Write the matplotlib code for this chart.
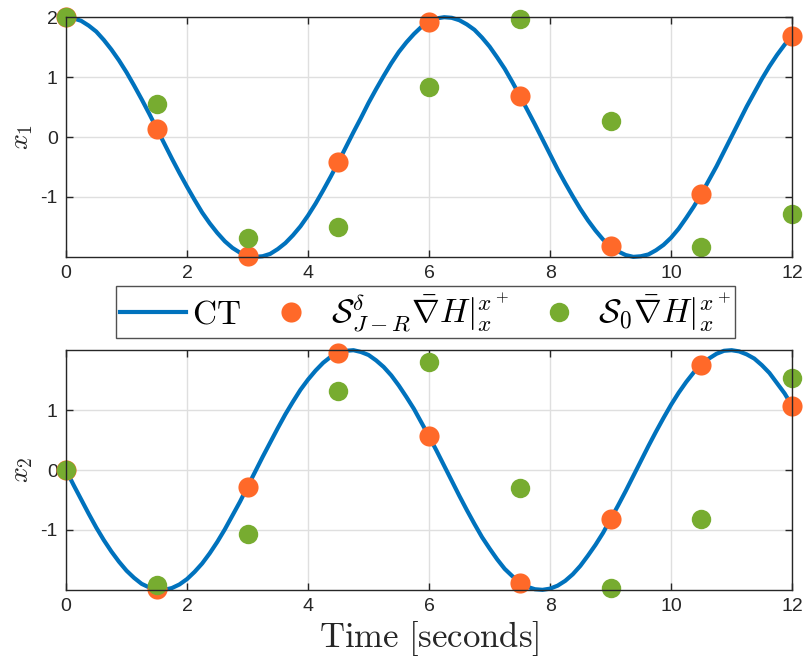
import numpy as np
import matplotlib.pyplot as plt

plt.rcParams['font.family'] = ['Liberation Sans', 'DejaVu Sans']
plt.rcParams['mathtext.fontset'] = 'cm'

# continuous-time trajectory, sampled every 0.125 s
t_ct = np.linspace(0, 12, 97)
x1_ct = [2.00, 1.98, 1.94, 1.86, 1.76, 1.62, 1.46, 1.28, 1.08, 0.86, 0.63, 0.39,
         0.14, -0.11, -0.36, -0.60, -0.83, -1.05, -1.26, -1.44, -1.60, -1.74, -1.85, -1.93,
         -1.98, -2.00, -1.99, -1.95, -1.87, -1.77, -1.64, -1.49, -1.31, -1.11, -0.89, -0.66,
         -0.42, -0.17, 0.08, 0.32, 0.57, 0.80, 1.02, 1.23, 1.42, 1.58, 1.72, 1.84,
         1.92, 1.98, 2.00, 1.99, 1.95, 1.88, 1.79, 1.66, 1.51, 1.33, 1.14, 0.92,
         0.69, 0.45, 0.21, -0.04, -0.29, -0.54, -0.77, -0.99, -1.20, -1.39, -1.56, -1.71,
         -1.82, -1.91, -1.97, -2.00, -1.99, -1.96, -1.89, -1.80, -1.68, -1.53, -1.35, -1.16,
         -0.95, -0.72, -0.49, -0.24, 0.01, 0.26, 0.51, 0.74, 0.97, 1.18, 1.37, 1.54,
         1.69]
x2_ct = [0.00, -0.25, -0.49, -0.73, -0.96, -1.17, -1.36, -1.53, -1.68, -1.80, -1.90, -1.96,
         -1.99, -2.00, -1.97, -1.91, -1.82, -1.70, -1.56, -1.39, -1.20, -0.99, -0.76, -0.53,
         -0.28, -0.03, 0.22, 0.46, 0.70, 0.93, 1.14, 1.34, 1.51, 1.66, 1.79, 1.89,
         1.96, 1.99, 2.00, 1.97, 1.92, 1.83, 1.72, 1.58, 1.41, 1.22, 1.02, 0.79,
         0.56, 0.32, 0.07, -0.18, -0.43, -0.67, -0.90, -1.12, -1.31, -1.49, -1.65, -1.77,
         -1.88, -1.95, -1.99, -2.00, -1.98, -1.93, -1.85, -1.74, -1.60, -1.43, -1.25, -1.05,
         -0.82, -0.59, -0.35, -0.10, 0.15, 0.40, 0.64, 0.87, 1.09, 1.29, 1.47, 1.63,
         1.76, 1.86, 1.94, 1.99, 2.00, 1.98, 1.93, 1.86, 1.75, 1.62, 1.45, 1.28,
         1.07]

# discrete samples, step 1.5 s
t_d = [0, 1.5, 3, 4.5, 6, 7.5, 9, 10.5, 12]
x1_jr = [2.00, 0.14, -1.98, -0.42, 1.92, 0.69, -1.82, -0.95, 1.69]
x2_jr = [0.00, -1.99, -0.28, 1.96, 0.56, -1.88, -0.82, 1.76, 1.07]
x1_s0 = [2.00, 0.55, -1.68, -1.50, 0.83, 1.97, 0.26, -1.83, -1.29]
x2_s0 = [0.00, -1.92, -1.07, 1.32, 1.80, -0.30, -1.97, -0.81, 1.53]

blue = '#0072BD'
orange = '#FF6929'
green = '#77AC30'
dark = '#262626'

fig = plt.figure(figsize=(8.05, 6.62), dpi=100)
ax1 = fig.add_axes([0.082, 0.612, 0.902, 0.362])
ax2 = fig.add_axes([0.082, 0.109, 0.902, 0.362])

def style(ax, yticks, ylabel):
    ax.set_xlim(0, 12)
    ax.set_ylim(-2, 2)
    ax.set_xticks([0, 2, 4, 6, 8, 10, 12])
    ax.set_yticks(yticks)
    ax.set_yticklabels([str(v) for v in yticks])
    ax.grid(True, color='#DFDFDF', linewidth=1)
    ax.set_axisbelow(True)
    ax.tick_params(direction='in', top=True, right=True, length=5, width=1,
                   colors=dark, labelsize=14, pad=6)
    for s in ax.spines.values():
        s.set_color(dark)
        s.set_linewidth(1)
    ax.set_ylabel(ylabel, fontsize=20, color=dark, labelpad=4)

style(ax1, [-1, 0, 1, 2], r'$x_1$')
style(ax2, [-1, 0, 1], r'$x_2$')

lbl_ct = r'$\mathrm{CT}$'
lbl_jr = r'$\mathcal{S}^{\delta}_{J-R}\bar{\nabla} H|_x^{x^+}$'
lbl_s0 = r'$\mathcal{S}_0\bar{\nabla} H|_x^{x^+}$'

for ax, ct, jr, s0 in [(ax1, x1_ct, x1_jr, x1_s0), (ax2, x2_ct, x2_jr, x2_s0)]:
    ax.plot(t_ct, ct, color=blue, linewidth=3, label=lbl_ct, clip_on=False,
            solid_joinstyle='round')
    ax.plot(t_d, jr, 'o', color=orange, markersize=14.5, markeredgewidth=0,
            label=lbl_jr, clip_on=False)
    ax.plot(t_d, s0, 'o', color=green, markersize=14, markeredgewidth=0,
            label=lbl_s0, clip_on=False)

ax2.set_xlabel(r'$\mathrm{Time\ [seconds]}$', fontsize=25, color=dark, labelpad=3)

h, l = ax1.get_legend_handles_labels()
leg = fig.legend(h, l, loc='center', bbox_to_anchor=(0.5286, 0.5287), ncol=3,
                 fontsize=24, frameon=True, fancybox=False, handlelength=2.0,
                 columnspacing=0.5, handletextpad=0.18, borderpad=0.12,
                 borderaxespad=0)
leg.get_frame().set_edgecolor(dark)
leg.get_frame().set_linewidth(1)

fig.savefig('out.png', dpi=100)
